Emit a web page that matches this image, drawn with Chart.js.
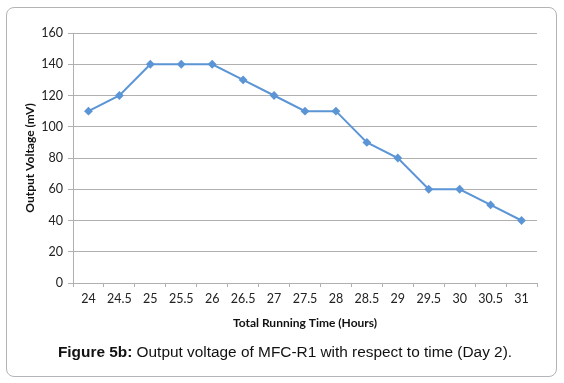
<!DOCTYPE html>
<html>
<head>
<meta charset="utf-8">
<script src="https://cdn.jsdelivr.net/npm/chart.js@4.4.1/dist/chart.umd.min.js"></script>
<style>
  html, body { margin: 0; padding: 0; background: #fff; }
  #wrap { position: relative; width: 564px; height: 383px; overflow: hidden; }
  #frame { position: absolute; left: 6px; top: 7px; width: 551px; height: 370px;
           border: 1px solid #b4b4b4; border-radius: 8px; box-sizing: border-box; }
  #cv { position: absolute; left: 0; top: 0; }
  #caption { position: absolute; left: 0; width: 570px; top: 343px; text-align: center;
             font-family: "Liberation Sans", Arial, sans-serif; font-size: 15.4px; color: #111; }
  #caption b { font-weight: bold; }
</style>
</head>
<body>
<div id="wrap">
  <div id="frame"></div>
  <canvas id="cv" width="564" height="383"></canvas>
  <div id="caption"><b>Figure 5b:</b> Output voltage of MFC-R1 with respect to time (Day 2).</div>
</div>
<script>
const hours = ["24","24.5","25","25.5","26","26.5","27","27.5","28","28.5","29","29.5","30","30.5","31"];
const voltage = [110,120,140,140,140,130,120,110,110,90,80,60,60,50,40];
const yTitle = "Output Voltage (mV)";
const xTitle = "Total Running Time (Hours)";

const tickFont = { family: "Lato, 'Open Sans', sans-serif", size: 12.5 };
const titleFont = { family: "Lato, 'Open Sans', sans-serif", size: 12, weight: "bold" };

new Chart(document.getElementById('cv'), {
  type: 'line',
  data: {
    labels: hours,
    datasets: [{
      data: voltage,
      borderColor: '#5b95d5',
      backgroundColor: '#5b95d5',
      borderWidth: 2,
      pointStyle: 'rectRot',
      pointRadius: 3,
      pointHoverRadius: 3,
      tension: 0,
      fill: false
    }]
  },
  options: {
    responsive: false,
    animation: false,
    devicePixelRatio: 1,
    plugins: { legend: { display: false }, tooltip: { enabled: false } },
    layout: { padding: { left: 0, top: 33, right: 27, bottom: 53 } },
    scales: {
      x: {
        type: 'category',
        offset: true,
        grid: { offset: true, drawOnChartArea: false, drawTicks: true, tickLength: 4, color: '#b0b0b0' },
        border: { display: true, color: '#b0b0b0' },
        ticks: { font: tickFont, color: '#222', padding: 4, maxRotation: 0, autoSkip: false },
        title: { display: true, text: xTitle, font: titleFont, color: '#111', padding: { top: 0, bottom: 0 } },
        afterFit: (s) => { s.height = 47; }
      },
      y: {
        min: 0, max: 160,
        ticks: { stepSize: 20, font: tickFont, color: '#222', padding: 5 },
        grid: { color: '#b0b0b0', tickLength: 5 },
        border: { display: true, color: '#b0b0b0' },
        title: { display: true, text: yTitle, font: titleFont, color: '#111', padding: { top: 23, bottom: 0 } },
        afterFit: (s) => { s.width = 73; }
      }
    }
  }
});
</script>
</body>
</html>
